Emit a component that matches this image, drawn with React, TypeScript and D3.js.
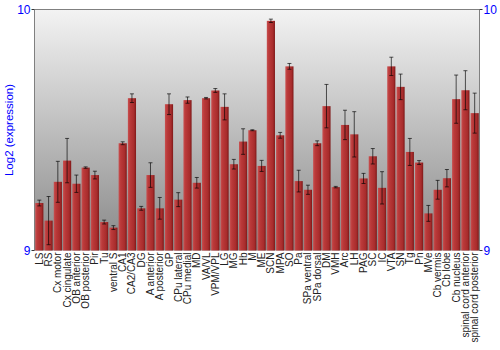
import React from "react";
import * as d3 from "d3";

const categories = ["LS","RS","Cx motor","Cx cingulate","OB anterior","OB posterior","Pir","Tu","ventral S","CA1","CA2/CA3","DG","A anterior","A posterior","GP","CPu lateral","CPu medial","MD","VA/VL","VPM/VPL","LG","MG","Hb","M","ME","SCN","MPA","SO","Pa","SPa ventral","SPa dorsal","DM","VMH","Arc","LH","PAG","SC","IC","VTA","SN","Tg","Pn","MVe","Cb vermis","Cb lobe","Cb nucleus","spinal cord anterior","spinal cord posterior"];
const values = [9.197,9.124,9.285,9.373,9.277,9.344,9.313,9.118,9.095,9.445,9.632,9.175,9.313,9.175,9.607,9.211,9.624,9.281,9.632,9.664,9.596,9.358,9.452,9.499,9.351,9.953,9.478,9.764,9.288,9.252,9.445,9.599,9.263,9.521,9.482,9.299,9.391,9.260,9.764,9.679,9.409,9.365,9.154,9.252,9.300,9.628,9.665,9.570];
const errors = [0.012,0.1,0.085,0.092,0.036,0.003,0.016,0.008,0.008,0.006,0.018,0.008,0.051,0.045,0.043,0.029,0.013,0.022,0.003,0.008,0.054,0.02,0.053,0.002,0.023,0.007,0.012,0.012,0.045,0.019,0.01,0.09,0.003,0.061,0.094,0.021,0.032,0.067,0.038,0.053,0.056,0.008,0.033,0.039,0.036,0.1,0.081,0.083];
const yTicks = [9, 10];

const W = 500, H = 350;
const left = 34.5, right = 479.5, top = 9.5, bottom = 250.5;

export default function App() {
  const x = d3.scaleBand<string>().domain(categories).range([left, right]).paddingInner(0.12).paddingOuter(0.08);
  const y = d3.scaleLinear().domain([9, 10]).range([bottom, top]);
  const bw = x.bandwidth();
  return (
    <svg width={W} height={H} style={{ position: "absolute", left: 0, top: 0 }} fontFamily="'Liberation Sans', Arial, sans-serif">
      <defs>
        <linearGradient id="bg" x1="0" y1="0" x2="0" y2="1">
          <stop offset="0%" stopColor="#f3f3f3" />
          <stop offset="100%" stopColor="#888888" />
        </linearGradient>
        <linearGradient id="bar" x1="0" y1="0" x2="1" y2="0">
          <stop offset="0%" stopColor="#c85050" />
          <stop offset="25%" stopColor="#bb3a3a" />
          <stop offset="75%" stopColor="#a82c2c" />
          <stop offset="100%" stopColor="#7e1818" />
        </linearGradient>
      </defs>
      <rect x={left} y={top} width={right - left} height={bottom - top} fill="url(#bg)" />
      {categories.map((c, i) => {
        const x0 = x(c)!;
        return (
          <rect key={c} x={x0} y={y(values[i])} width={bw} height={bottom - y(values[i])} fill="url(#bar)" />
        );
      })}
      {categories.map((c, i) => {
        const cx = x(c)! + bw / 2;
        const y1 = y(values[i] + errors[i]);
        const y2 = y(values[i] - errors[i]);
        return (
          <g key={c} stroke="#000" strokeOpacity={0.65} strokeWidth={1}>
            <line x1={cx} x2={cx} y1={y1} y2={y2} />
            <line x1={cx - 2} x2={cx + 2} y1={y1} y2={y1} />
            <line x1={cx - 2} x2={cx + 2} y1={y2} y2={y2} />
          </g>
        );
      })}
      <path d={`M${left},${bottom}V${top}H${right}V${bottom}`} fill="none" stroke="#808080" strokeWidth={1} />
      {yTicks.map((t) => (
        <g key={t}>
          <line x1={left - 3} x2={left} y1={y(t)} y2={y(t)} stroke="#333" />
          <line x1={right} x2={right + 3} y1={y(t)} y2={y(t)} stroke="#333" />
          <text x={left - 4} y={y(t)} dy="0.35em" textAnchor="end" fontSize={12} fill="#0000ff">{t}</text>
          <text x={right + 4} y={y(t)} dy="0.35em" textAnchor="start" fontSize={12} fill="#0000ff">{t}</text>
        </g>
      ))}
      <text transform={`translate(12.5,${(top + bottom) / 2}) rotate(-90)`} textAnchor="middle" fontSize={11.5} fill="#0000ff">Log2 (expression)</text>
      {categories.map((c) => (
        <text key={c} transform={`translate(${x(c)! + bw / 2},${bottom + 2}) rotate(-90)`} textAnchor="end" dy="0.35em" fontSize={10} fill="#222">{c}</text>
      ))}
    </svg>
  );
}
